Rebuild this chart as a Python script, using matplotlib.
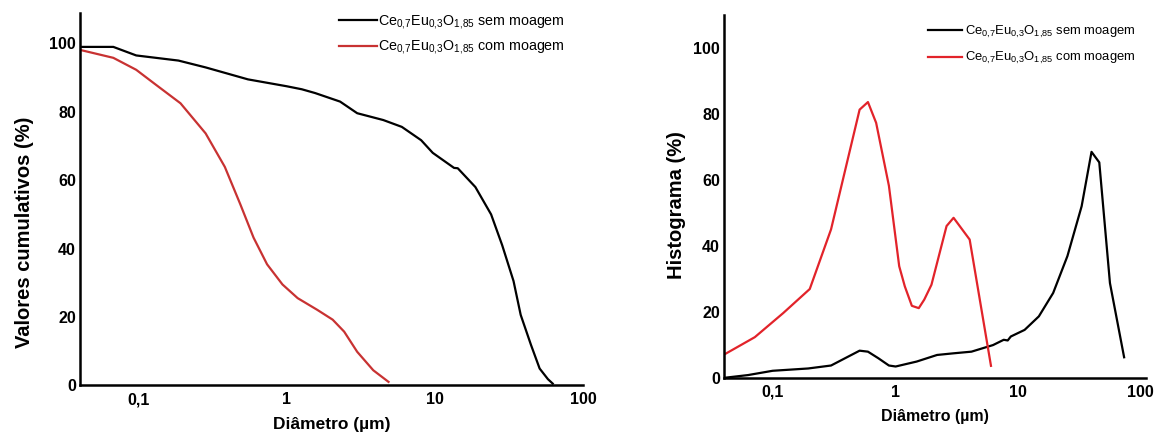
import numpy as np
import matplotlib
matplotlib.use("Agg")
import matplotlib.pyplot as plt
from matplotlib.ticker import FixedLocator, NullLocator

plt.rcParams['font.family'] = ['Liberation Sans', 'DejaVu Sans']
plt.rcParams['mathtext.default'] = 'regular'

# cumulative curves (left)
cum_sem_d = [0.039, 0.068, 0.097, 0.187, 0.285, 0.55, 1.0, 1.27, 1.56, 2.3, 3.0, 4.5, 6.0,
             8.1, 9.7, 13.5, 14.3, 18.8, 24, 28.5, 34, 38, 44.6, 51, 58, 62.5]
cum_sem_v = [99, 99, 96.5, 95, 93, 89.5, 87.5, 86.6, 85.5, 83, 79.6, 77.6, 75.6,
             71.7, 68, 63.6, 63.5, 58, 50, 41, 30.5, 20.6, 11.8, 4.9, 1.8, 0.5]
cum_com_d = [0.039, 0.068, 0.097, 0.131, 0.193, 0.285, 0.384, 0.488, 0.60, 0.74, 0.94,
             1.19, 1.61, 2.05, 2.45, 3.0, 3.85, 4.88]
cum_com_v = [98.3, 95.8, 92.3, 88, 82.5, 73.7, 63.9, 53, 43.2, 35.4, 29.5,
             25.5, 22.1, 19.2, 15.7, 9.8, 4.4, 1.0]

# histogram curves (right)
his_sem_d = [0.041, 0.063, 0.1, 0.195, 0.30, 0.513, 0.6, 0.73, 0.89, 1.01, 1.5, 2.2, 3.0,
             4.2, 6.3, 7.7, 8.3, 8.8, 11.4, 14.9, 19.5, 25.5, 33.3, 40.1, 46.4, 56.7, 74]
his_sem_v = [0, 0.8, 2.1, 2.8, 3.7, 8.2, 7.9, 5.9, 3.7, 3.4, 4.9, 6.9, 7.4,
             7.9, 9.9, 11.5, 11.3, 12.5, 14.5, 18.6, 25.7, 36.9, 52, 68.5, 65.3, 28.7, 6.2]
his_com_d = [0.041, 0.0716, 0.122, 0.201, 0.30, 0.513, 0.6, 0.70, 0.89, 1.08, 1.2, 1.37,
             1.56, 1.73, 1.98, 2.63, 3.0, 4.06, 6.06]
his_com_v = [7.2, 12.3, 19.6, 26.9, 45, 81.3, 83.6, 77.3, 58.2, 33.8, 27.7, 21.8,
             21.1, 23.7, 28.2, 46, 48.5, 41.9, 3.6]

xticks = [0.1, 1, 10, 100]
xticklabels = ['0,1', '1', '10', '100']
yticks = [0, 20, 40, 60, 80, 100]

lab_sem = r'Ce$_{0{,}7}$Eu$_{0{,}3}$O$_{1{,}85}$ sem moagem'
lab_com = r'Ce$_{0{,}7}$Eu$_{0{,}3}$O$_{1{,}85}$ com moagem'

fig = plt.figure(figsize=(11.54, 4.34), dpi=100)
ax1 = fig.add_axes([0.0693, 0.1122, 0.4359, 0.8585])
ax2 = fig.add_axes([0.6276, 0.1297, 0.3652, 0.8357])


def style(ax, xlim, ylim, ylabel, ypad, ypos, xsize):
    ax.set_xscale('log')
    ax.set_xlim(*xlim)
    ax.set_ylim(*ylim)
    ax.xaxis.set_major_locator(FixedLocator(xticks))
    ax.xaxis.set_minor_locator(NullLocator())
    ax.set_xticklabels(xticklabels)
    ax.set_yticks(yticks)
    for s in ['top', 'right']:
        ax.spines[s].set_visible(False)
    for s in ['left', 'bottom']:
        ax.spines[s].set_linewidth(1.8)
    ax.tick_params(axis='x', length=0, pad=5, labelsize=11.5)
    ax.tick_params(axis='y', length=0, pad=3, labelsize=11.5)
    for t in ax.get_xticklabels() + ax.get_yticklabels():
        t.set_fontweight('bold')
    ax.set_xlabel('Diâmetro (µm)', fontsize=xsize, fontweight='bold', labelpad=7)
    ax.set_ylabel(ylabel, fontsize=14.5, fontweight='bold', labelpad=ypad)
    ax.yaxis.label.set_y(ypos)


ax1.plot(cum_sem_d, cum_sem_v, color='black', lw=1.6, label=lab_sem)
ax1.plot(cum_com_d, cum_com_v, color='#c83232', lw=1.6, label=lab_com)
style(ax1, (0.0405, 100), (0, 109), 'Valores cumulativos (%)', 11, 0.41, 12.5)
ax1.legend(loc='upper left', bbox_to_anchor=(0.49, 1.035), frameon=False, fontsize=10.3,
           handlelength=2.6, handletextpad=0.1, labelspacing=0.55)

ax2.plot(his_sem_d, his_sem_v, color='black', lw=1.6, label=lab_sem)
ax2.plot(his_com_d, his_com_v, color='#e2232a', lw=1.6, label=lab_com)
style(ax2, (0.0403, 111), (0, 110), 'Histograma (%)', 5, 0.475, 11.5)
ax2.legend(loc='upper left', bbox_to_anchor=(0.455, 1.008), frameon=False, fontsize=9.4,
           handlelength=2.6, handletextpad=0.25, labelspacing=0.8)

fig.savefig('out.png', dpi=100)
